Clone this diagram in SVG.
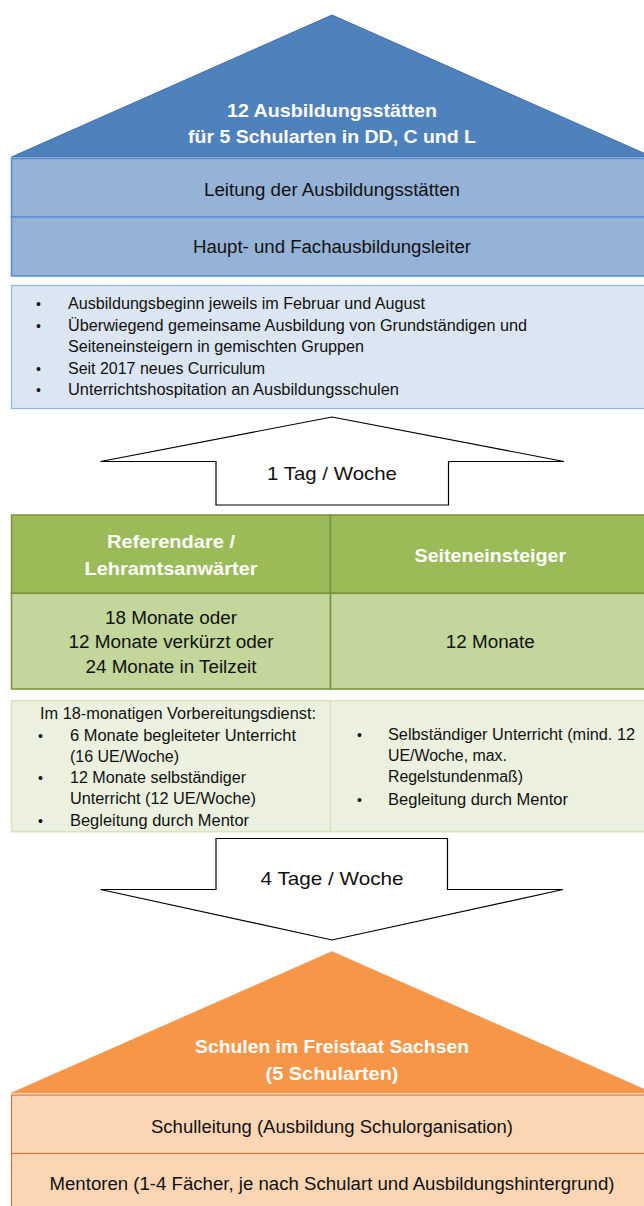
<svg xmlns="http://www.w3.org/2000/svg" width="644" height="1206" viewBox="0 0 644 1206">
<style>
text{font-family:"Liberation Sans",Arial,sans-serif;fill:#111}
.hd{font-weight:bold;font-size:19px;fill:#fff;text-anchor:middle}
.c18{font-size:18px;text-anchor:middle}
.c19{font-size:19px;text-anchor:middle}
.b16{font-size:16px}
.blt{font-size:14px}
.arrow{fill:#fff;stroke:#000;stroke-width:1.2}
</style>
<rect width="644" height="1206" fill="#fff"/>

<g id="ausbildungsstaetten">
<polygon points="332,15 652.5,157 11.5,157" fill="#4f81bd" stroke="#3f6ea8" stroke-width="1"/>
<text class="hd" x="332" y="116.5" textLength="210" lengthAdjust="spacingAndGlyphs">12 Ausbildungsstätten</text>
<text class="hd" x="332" y="142.5" textLength="288" lengthAdjust="spacingAndGlyphs">für 5 Schularten in DD, C und L</text>
</g>

<g id="leitung">
<rect x="11.5" y="158.5" width="642" height="58.5" fill="#95b3d7" stroke="#558ed5" stroke-width="1.5"/>
<text class="c18" x="332" y="196" textLength="256" lengthAdjust="spacingAndGlyphs">Leitung der Ausbildungsstätten</text>
</g>

<g id="fachausbildungsleiter">
<rect x="11.5" y="217" width="642" height="59" fill="#95b3d7" stroke="#558ed5" stroke-width="1.5"/>
<text class="c18" x="332" y="253" textLength="278" lengthAdjust="spacingAndGlyphs">Haupt- und Fachausbildungsleiter</text>
</g>

<g id="info-ausbildung">
<rect x="11.5" y="285.5" width="642" height="123" fill="#dce6f2" stroke="#8eb4e3" stroke-width="1.2"/>
<text class="blt" x="36" y="308.5">•</text>
<text class="b16" x="68" y="308.5" textLength="357" lengthAdjust="spacingAndGlyphs">Ausbildungsbeginn jeweils im Februar und August</text>
<text class="blt" x="36" y="330.5">•</text>
<text class="b16" x="68" y="330.5" textLength="459" lengthAdjust="spacingAndGlyphs">Überwiegend gemeinsame Ausbildung von Grundständigen und</text>
<text class="b16" x="68" y="351.5" textLength="296" lengthAdjust="spacingAndGlyphs">Seiteneinsteigern in gemischten Gruppen</text>
<text class="blt" x="36" y="373.5">•</text>
<text class="b16" x="68" y="373.5" textLength="197" lengthAdjust="spacingAndGlyphs">Seit 2017 neues Curriculum</text>
<text class="blt" x="36" y="394.5">•</text>
<text class="b16" x="68" y="394.5" textLength="331" lengthAdjust="spacingAndGlyphs">Unterrichtshospitation an Ausbildungsschulen</text>
</g>

<g id="connectors">
<polygon class="arrow" points="332,417 564,461.5 448.5,461.5 448.5,505 216,505 216,461.5 100.5,461.5"/>
<text class="c19" x="332" y="480" textLength="130" lengthAdjust="spacingAndGlyphs">1 Tag / Woche</text>
<polygon class="arrow" points="216,838.5 447.5,838.5 447.5,889.5 563,889.5 332,940 100.5,889.5 216,889.5"/>
<text class="c19" x="332" y="885" textLength="143" lengthAdjust="spacingAndGlyphs">4 Tage / Woche</text>
</g>

<g id="referendare">
<rect x="11.5" y="515" width="319" height="78.3" fill="#9bbb59" stroke="#77933c" stroke-width="1.5"/>
<text class="hd" x="171" y="548" textLength="128" lengthAdjust="spacingAndGlyphs">Referendare /</text>
<text class="hd" x="171" y="575" textLength="173" lengthAdjust="spacingAndGlyphs">Lehramtsanwärter</text>
<rect x="11.5" y="593.3" width="319" height="95.7" fill="#c3d69b" stroke="#77933c" stroke-width="1.5"/>
<text class="c18" x="171" y="624" textLength="132" lengthAdjust="spacingAndGlyphs">18 Monate oder</text>
<text class="c18" x="171" y="648" textLength="205" lengthAdjust="spacingAndGlyphs">12 Monate verkürzt oder</text>
<text class="c18" x="171" y="673" textLength="171" lengthAdjust="spacingAndGlyphs">24 Monate in Teilzeit</text>
</g>

<g id="seiteneinsteiger">
<rect x="330.5" y="515" width="323" height="78.3" fill="#9bbb59" stroke="#77933c" stroke-width="1.5"/>
<text class="hd" x="490.3" y="561.5" textLength="151.5" lengthAdjust="spacingAndGlyphs">Seiteneinsteiger</text>
<rect x="330.5" y="593.3" width="323" height="95.7" fill="#c3d69b" stroke="#77933c" stroke-width="1.5"/>
<text class="c18" x="490.3" y="648" textLength="89" lengthAdjust="spacingAndGlyphs">12 Monate</text>
</g>

<g id="vorbereitungsdienst">
<rect x="11.5" y="700.7" width="319" height="131" fill="#ebf1de" stroke="#d7e4bd" stroke-width="1.5"/>
<text class="b16" x="40" y="718.5" textLength="276" lengthAdjust="spacingAndGlyphs">Im 18-monatigen Vorbereitungsdienst:</text>
<text class="blt" x="38" y="740.5">•</text>
<text class="b16" x="70" y="740.5" textLength="226" lengthAdjust="spacingAndGlyphs">6 Monate begleiteter Unterricht</text>
<text class="b16" x="70" y="762" textLength="109" lengthAdjust="spacingAndGlyphs">(16 UE/Woche)</text>
<text class="blt" x="38" y="783">•</text>
<text class="b16" x="70" y="783" textLength="176" lengthAdjust="spacingAndGlyphs">12 Monate selbständiger</text>
<text class="b16" x="70" y="803.5" textLength="186" lengthAdjust="spacingAndGlyphs">Unterricht (12 UE/Woche)</text>
<text class="blt" x="38" y="826">•</text>
<text class="b16" x="70" y="826" textLength="179" lengthAdjust="spacingAndGlyphs">Begleitung durch Mentor</text>
</g>

<g id="seiteneinsteiger-details">
<rect x="330.5" y="700.7" width="323" height="131" fill="#ebf1de" stroke="#d7e4bd" stroke-width="1.5"/>
<text class="blt" x="357" y="739.5">•</text>
<text class="b16" x="388" y="739.5" textLength="247" lengthAdjust="spacingAndGlyphs">Selbständiger Unterricht (mind. 12</text>
<text class="b16" x="388" y="760.5" textLength="119" lengthAdjust="spacingAndGlyphs">UE/Woche, max.</text>
<text class="b16" x="388" y="781.5" textLength="135" lengthAdjust="spacingAndGlyphs">Regelstundenmaß)</text>
<text class="blt" x="357" y="804.5">•</text>
<text class="b16" x="388" y="804.5" textLength="180" lengthAdjust="spacingAndGlyphs">Begleitung durch Mentor</text>
</g>

<g id="schulen">
<polygon points="332,951.7 652.5,1093 11.5,1093" fill="#f79646" stroke="#f0a060" stroke-width="1"/>
<text class="hd" x="332" y="1053" textLength="274" lengthAdjust="spacingAndGlyphs">Schulen im Freistaat Sachsen</text>
<text class="hd" x="332" y="1080" textLength="133" lengthAdjust="spacingAndGlyphs">(5 Schularten)</text>
</g>

<g id="schulleitung">
<rect x="11.5" y="1095" width="642" height="58.5" fill="#fcd5b5" stroke="#c8793a" stroke-width="1.2"/>
<text class="c18" x="332" y="1132.5" textLength="362" lengthAdjust="spacingAndGlyphs">Schulleitung (Ausbildung Schulorganisation)</text>
</g>

<g id="mentoren">
<rect x="11.5" y="1153.5" width="642" height="60" fill="#fcd5b5" stroke="#c8793a" stroke-width="1.2"/>
<text class="c18" x="332" y="1189.5" textLength="565" lengthAdjust="spacingAndGlyphs">Mentoren (1-4 Fächer, je nach Schulart und Ausbildungshintergrund)</text>
</g>
</svg>
